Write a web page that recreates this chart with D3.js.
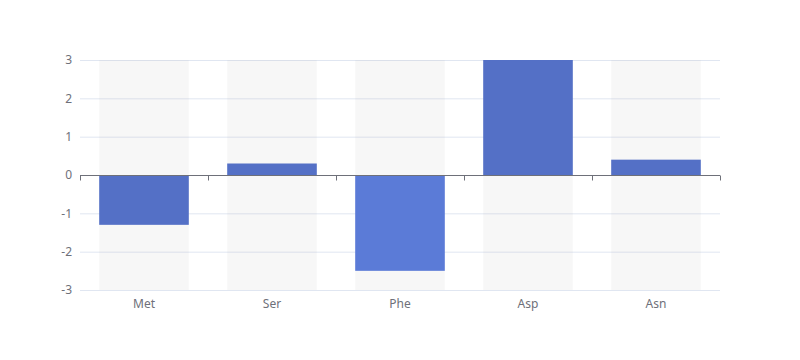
<!DOCTYPE html>
<html><head><meta charset="utf-8">
<script src="https://cdn.jsdelivr.net/npm/d3@7/dist/d3.min.js"></script>
<style>body{margin:0;background:#fff}svg{display:block}text{font-family:"Microsoft YaHei","Noto Sans",sans-serif}</style>
</head><body><svg id="c" width="800" height="360"></svg>
<script>
const categories = ["Met","Ser","Phe","Asp","Asn"];
const values = [-1.3, 0.3, -2.5, 3, 0.4];
const yTicks = [-3,-2,-1,0,1,2,3];

const svg = d3.select("#c");
const L=80,R=720,T=60,B=290;
const x = d3.scaleBand().domain(categories).range([L,R]).paddingInner(0).paddingOuter(0);
const y = d3.scaleLinear().domain([-3,3]).range([B,T]);
const bw = x.bandwidth()*0.7;
const off = (x.bandwidth()-bw)/2;

// grid lines
svg.append("g").selectAll("line").data(yTicks).join("line")
  .attr("x1",L).attr("x2",R).attr("y1",d=>y(d)+0.5).attr("y2",d=>y(d)+0.5)
  .attr("stroke","#E0E6F1");

// background bars
svg.append("g").selectAll("rect").data(categories).join("rect")
  .attr("x",d=>x(d)+off).attr("width",bw).attr("y",T).attr("height",B-T)
  .attr("fill","rgba(180,180,180,0.1)");

// bars
svg.append("g").selectAll("rect").data(values).join("rect")
  .attr("x",(d,i)=>x(categories[i])+off).attr("width",bw)
  .attr("y",d=>Math.min(y(d),y(0))).attr("height",d=>Math.abs(y(d)-y(0)))
  .attr("fill",(d,i)=>i===2?"#5b7bd7":"#5470c6");

// zero axis
const z = Math.round(y(0))+0.5;
svg.append("line").attr("x1",L).attr("x2",R).attr("y1",z).attr("y2",z).attr("stroke","#6E7079");
const bounds = categories.map(c=>x(c)).concat([R]);
svg.append("g").selectAll("line").data(bounds).join("line")
  .attr("x1",d=>d+0.5).attr("x2",d=>d+0.5).attr("y1",z).attr("y2",z+5).attr("stroke","#6E7079");

// y labels
svg.append("g").selectAll("text").data(yTicks).join("text")
  .attr("x",L-8).attr("y",d=>y(d)).attr("dy","0.35em").attr("text-anchor","end")
  .attr("font-size",12).attr("fill","#6E7079").text(d=>d);

// x labels
svg.append("g").selectAll("text").data(categories).join("text")
  .attr("x",d=>x(d)+x.bandwidth()/2).attr("y",B+8).attr("dy","0.8em").attr("text-anchor","middle")
  .attr("font-size",12).attr("fill","#6E7079").text(d=>d);
</script></body></html>
